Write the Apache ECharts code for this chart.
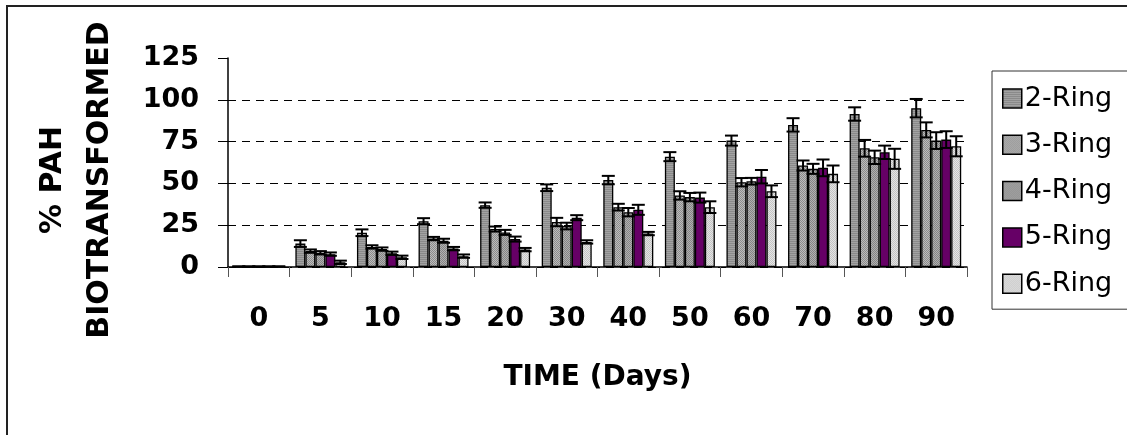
<!DOCTYPE html>
<html>
<head>
<meta charset="utf-8">
<script src="https://cdn.jsdelivr.net/npm/echarts@6/dist/echarts.min.js"></script>
<style>
  html, body { margin: 0; padding: 0; background: #fff; }
  #chart { width: 1127px; height: 435px; }
</style>
</head>
<body>
<div id="chart"></div>
<script>
// days on the x axis
const days = ['0', '5', '10', '15', '20', '30', '40', '50', '60', '70', '80', '90']
const ringNames = ['2-Ring', '3-Ring', '4-Ring', '5-Ring', '6-Ring']

// % biotransformed
const ring2 = [0.3, 14, 20.5, 27.4, 37, 47.4, 52, 66, 75.6, 85, 91.5, 95]
const ring3 = [0.3, 9.5, 12, 17, 22.7, 26.9, 35.8, 42.8, 50.7, 60.7, 71, 82]
const ring4 = [0.3, 8.5, 10.7, 15.7, 20.7, 24.5, 32.8, 41.8, 51.3, 58.7, 65.6, 75.6]
const ring5 = [0.3, 7.7, 8.2, 11, 16.7, 29.5, 34.2, 41.5, 54, 59.3, 68.6, 76.2]
const ring6 = [0.3, 2.8, 5.8, 6.5, 10.4, 15, 20, 35.8, 45.3, 55.7, 64.7, 72.2]

// error bar half-widths
const err2 = [0, 2, 2, 1.8, 1.6, 2, 2.5, 2.7, 3, 4, 4, 5.5]
const err3 = [0, 1, 1, 1, 1.5, 2.5, 2, 2.5, 2.5, 3, 5, 4.5]
const err4 = [0, 1, 1, 1.2, 1.5, 2, 2.5, 2.5, 2, 3, 4, 5]
const err5 = [0, 1, 1, 1, 1.5, 1.5, 3, 3, 4, 5, 4, 5]
const err6 = [0, 1, 1, 1, 1, 1, 1, 3.5, 3.5, 5, 6, 6]

const yTicks = [0, 25, 50, 75, 100, 125]

const values = [ring2, ring3, ring4, ring5, ring6]
const errors = [err2, err3, err4, err5, err6]

const FONT = '"DejaVu Sans", Verdana, sans-serif'
const BAR_W = 10

// small canvas fills imitating the old spreadsheet hatching
function makePattern(w, h, draw) {
  const c = document.createElement('canvas')
  c.width = w
  c.height = h
  draw(c.getContext('2d'))
  return { image: c, repeat: 'repeat' }
}

const fills = [
  makePattern(4, 2, ctx => {
    ctx.fillStyle = '#a2a2a2'; ctx.fillRect(0, 0, 4, 2)
    ctx.fillStyle = '#8a8a8a'; ctx.fillRect(0, 1, 4, 1)
  }),
  makePattern(2, 2, ctx => {
    ctx.fillStyle = '#bcbcbc'; ctx.fillRect(0, 0, 2, 2)
    ctx.fillStyle = '#8c8c8c'; ctx.fillRect(0, 0, 1, 1); ctx.fillRect(1, 1, 1, 1)
  }),
  makePattern(2, 2, ctx => {
    ctx.fillStyle = '#b0b0b0'; ctx.fillRect(0, 0, 2, 2)
    ctx.fillStyle = '#858585'; ctx.fillRect(0, 0, 1, 1); ctx.fillRect(1, 1, 1, 1)
  }),
  '#660066',
  makePattern(2, 2, ctx => {
    ctx.fillStyle = '#e4e4e4'; ctx.fillRect(0, 0, 2, 2)
    ctx.fillStyle = '#c4c4c4'; ctx.fillRect(0, 0, 1, 1); ctx.fillRect(1, 1, 1, 1)
  })
]

const chart = echarts.init(document.getElementById('chart'))

const barSeries = ringNames.map((name, k) => ({
  name: name,
  type: 'bar',
  data: values[k],
  barWidth: BAR_W,
  barGap: '0%',
  itemStyle: { color: fills[k], borderColor: '#000', borderWidth: 1.3 },
  z: 2
}))

const errSeries = ringNames.map((name, k) => ({
  type: 'custom',
  data: values[k].map((v, i) => [i, v, errors[k][i]]),
  encode: { x: 0, y: 1 },
  z: 3,
  silent: true,
  renderItem: (params, api) => {
    const i = api.value(0)
    const v = api.value(1)
    const e = api.value(2)
    const off = (k - 2) * BAR_W
    const hi = api.coord([i, v + e])
    const lo = api.coord([i, v - e])
    const x = hi[0] + off
    const half = 6.5
    const st = { stroke: '#000', lineWidth: 2 }
    return {
      type: 'group',
      children: [
        { type: 'line', shape: { x1: x, y1: hi[1], x2: x, y2: lo[1] }, style: st },
        { type: 'line', shape: { x1: x - half, y1: hi[1], x2: x + half, y2: hi[1] }, style: st },
        { type: 'line', shape: { x1: x - half, y1: lo[1], x2: x + half, y2: lo[1] }, style: st }
      ]
    }
  }
}))

const option = {
  backgroundColor: '#fff',
  animation: false,
  textStyle: { fontFamily: FONT },
  grid: { left: 228, right: 160, top: 58, bottom: 168 },
  legend: {
    orient: 'vertical',
    left: 992,
    top: 71,
    data: ringNames,
    itemWidth: 19,
    itemHeight: 19,
    itemGap: 19.3,
    padding: [14, 40, 12, 10],
    borderColor: '#333',
    borderWidth: 1,
    icon: 'rect',
    itemStyle: { borderColor: '#000', borderWidth: 1.5 },
    textStyle: { fontFamily: FONT, fontSize: 27, color: '#000', padding: [0, 0, 0, -2] }
  },
  xAxis: {
    type: 'category',
    data: days,
    name: 'TIME (Days)',
    nameLocation: 'middle',
    nameGap: 97,
    nameTextStyle: { fontFamily: FONT, fontSize: 28, fontWeight: 'bold', color: '#000' },
    axisLine: { lineStyle: { color: '#000', width: 1.5 } },
    axisTick: { show: true, length: 10, lineStyle: { color: '#555', width: 1 } },
    axisLabel: { margin: 38, fontFamily: FONT, fontSize: 27, fontWeight: 'bold', color: '#000' },
    splitLine: { show: false }
  },
  yAxis: {
    type: 'value',
    min: 0,
    max: 125,
    interval: 25,
    axisLine: { show: true, lineStyle: { color: '#000', width: 1.5 } },
    axisTick: { show: true, length: 10, lineStyle: { color: '#000', width: 1 } },
    axisLabel: {
      margin: 29,
      fontFamily: FONT,
      fontSize: 27,
      fontWeight: 'bold',
      color: '#000',
      formatter: v => (yTicks.includes(v) ? String(v) : '')
    },
    splitLine: {
      show: true,
      showMaxLine: false,
      lineStyle: { color: '#000', width: 1, type: [8, 6] }
    }
  },
  graphic: [
    {
      type: 'rect',
      shape: { x: 7, y: 6, width: 1300, height: 600 },
      style: { fill: 'none', stroke: '#222', lineWidth: 2 },
      silent: true,
      z: -1
    },
    {
      type: 'text',
      x: 77,
      y: 180,
      rotation: Math.PI / 2,
      style: {
        text: '% PAH\nBIOTRANSFORMED',
        fontFamily: FONT,
        fontSize: 30,
        fontWeight: 'bold',
        fill: '#000',
        align: 'center',
        verticalAlign: 'middle',
        lineHeight: 47
      }
    }
  ],
  series: [...barSeries, ...errSeries]
}

chart.setOption(option)
</script>
</body>
</html>
